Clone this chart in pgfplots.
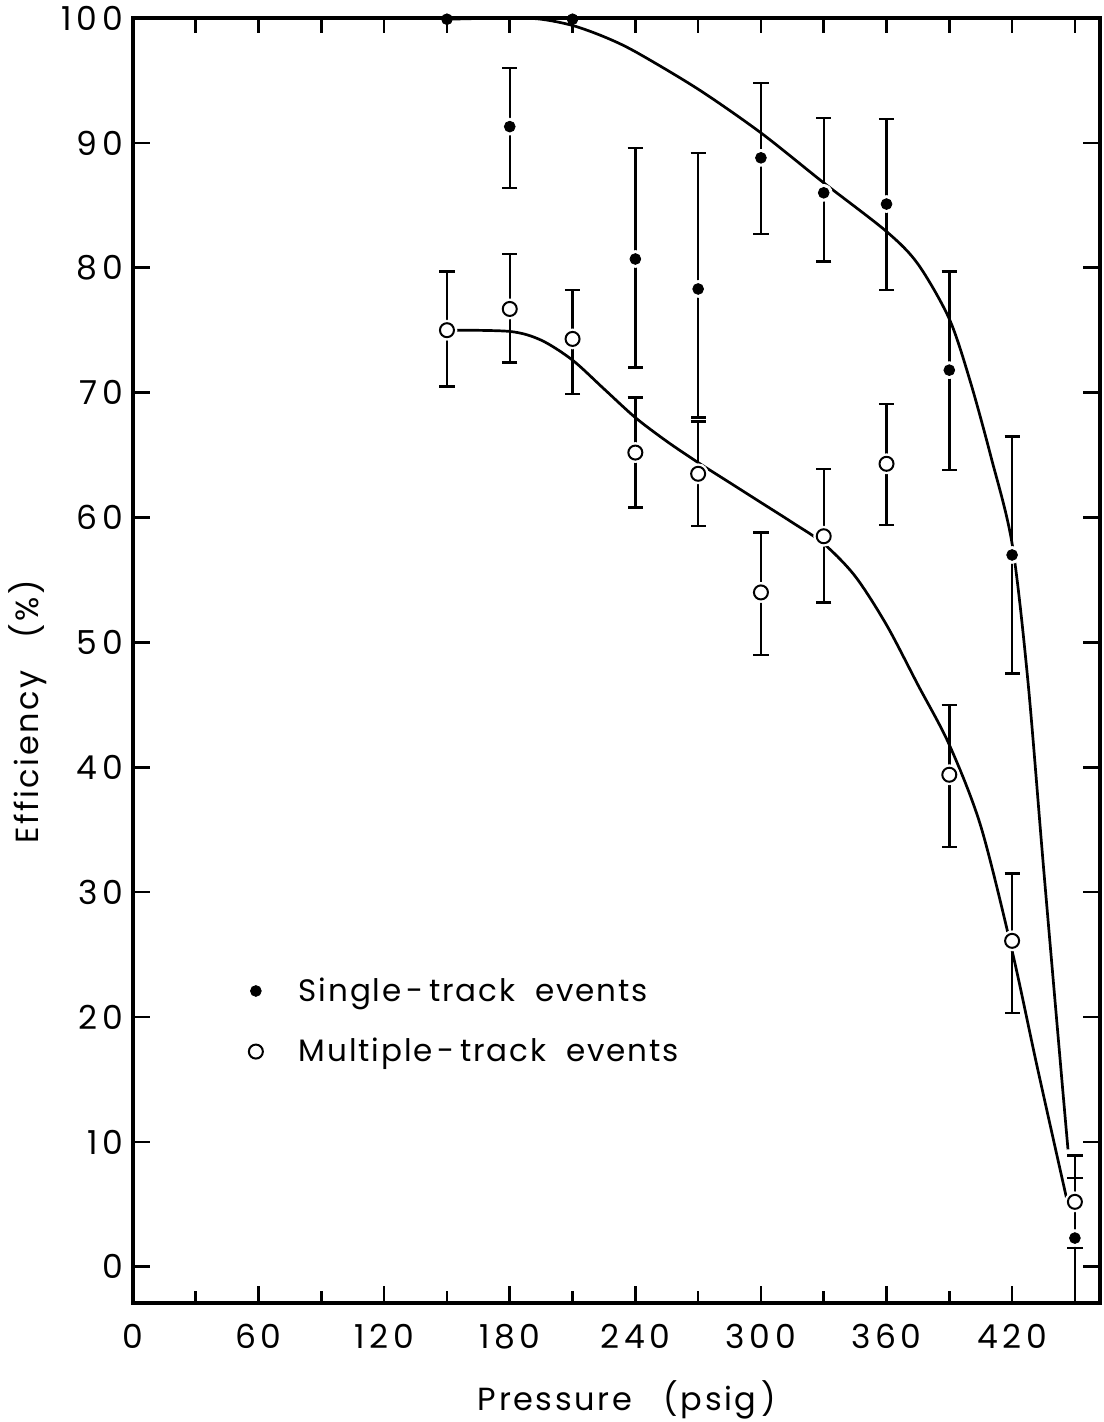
\documentclass[border=0pt]{standalone}
\usepackage{fontspec}
\setmainfont[LetterSpace=8]{Poppins}
\newfontfamily\tickfamily[LetterSpace=14]{Poppins}
\newfontfamily\legfamily[LetterSpace=6]{Poppins}
\usepackage{pgfplots}
\pgfplotsset{compat=1.18}
\usepackage{pgfplotstable}

% Single-track events: pressure, efficiency, error up, error down
\pgfplotstableread{
x y ep em
180 91.3 4.7 4.9
240 80.7 8.9 8.7
270 78.3 10.9 10.3
300 88.8 6.0 6.1
330 86.0 6.0 5.5
360 85.1 6.8 6.9
390 71.8 7.9 8.0
420 57.0 9.5 9.5
450 2.3 4.8 5.2
}\single
% points with no error bar
\pgfplotstableread{
x y
150 99.9
210 99.9
}\singlefull
% Multiple-track events
\pgfplotstableread{
x y ep em
150 75.0 4.7 4.5
180 76.7 4.4 4.3
210 74.3 3.9 4.4
240 65.2 4.4 4.4
270 63.5 4.2 4.2
300 54.0 4.8 5.0
330 58.5 5.4 5.3
360 64.3 4.8 4.9
390 39.4 5.6 5.8
420 26.1 5.4 5.8
450 5.2 3.7 3.7
}\multi

\newcommand\tickfont{\tickfamily\fontsize{16.5}{19}\selectfont}
\newcommand\lblfont{\fontsize{16}{19}\selectfont}
\newcommand\legfont{\legfamily\fontsize{15.5}{18}\selectfont}

\begin{document}
\begin{tikzpicture}
\pgfplotsset{
  common/.style={
    scale only axis,
    width=483.5pt, height=642.5pt,
    xmin=0, xmax=462, ymin=-2.9, ymax=100,
    tick align=inside,
    every tick/.style={black, line width=1.3pt},
    axis line style={line width=2.2pt},
  }
}
\begin{axis}[
  common,
  name=ax,
  xtick={0,60,...,420},
  minor xtick={30,90,...,450},
  xtick pos=left,
  ytick={0,10,...,100},
  yticklabel pos=left,
  major tick length=8.5pt,
  minor tick length=6pt,
  /pgf/number format/assume math mode=true,
  ticklabel style={font=\tickfont},
  xticklabel style={yshift=-7pt},
  yticklabel style={xshift=-1.5pt},
  xlabel={Pressure\quad(psig\,)},
  ylabel={Efficiency\quad(\%)},
  label style={font=\lblfont},
  xlabel style={at={(axis description cs:0.511,-0.0755)}, anchor=center},
  ylabel style={at={(axis description cs:-0.1086,0.46)}, anchor=center},
  legend style={draw=none, fill=none, font=\legfont,
    at={(axis cs:52.3,19.66)}, anchor=west,
    row sep=13pt, column sep=6pt,
    /tikz/every odd column/.append style={column sep=16pt}},
  legend cell align=left,
]
% fitted curves
\addplot[black, line width=1.35pt, smooth, forget plot] coordinates {
(150,99.9) (180,100) (195,99.9) (210,99.4) (225,98.5) (240,97.3)
(270,94.3) (300,90.8) (330,86.8) (360,82.9) (375,80.3) (390,75.9)
(400,70.9) (410,64.8) (420,57.9) (427.5,47) (435,32) (443.5,15.5) (446.7,9.4)
};
\addplot[black, line width=1.35pt, smooth, forget plot] coordinates {
(150,75) (180,74.9) (195,74.2) (210,72.6) (225,70.3) (240,68.0)
(255,66.1) (270,64.4) (285,62.8) (300,61.2) (315,59.6) (330,57.9)
(345,55.3) (360,51.4) (375,46.6) (390,41.8) (405,35.3) (420,25.3)
(432,16) (446,5.5)
};
% white gaps round the points
\addplot[only marks, mark=*, mark size=4.2pt, mark options={draw=white, fill=white}, forget plot]
  table[x=x, y=y] {\single};
\addplot[only marks, mark=*, mark size=5pt, mark options={draw=white, fill=white}, forget plot]
  table[x=x, y=y] {\multi};
% measured points
\addplot[only marks, mark=*, mark size=2.7pt, black,
  error bars/.cd, y dir=both, y explicit,
  error bar style={line width=1.2pt, black},
  error mark options={rotate=90, mark size=3.8pt, line width=1.2pt, black}]
  table[x=x, y=y, y error plus=ep, y error minus=em] {\single};
\addlegendentry{Single\,-\,track\ \ events}
\addplot[only marks, mark=*, mark size=3.5pt, black,
  mark options={fill=white, line width=1pt},
  error bars/.cd, y dir=both, y explicit,
  error bar style={line width=1.2pt, black},
  error mark options={rotate=90, mark size=3.8pt, line width=1.2pt, black}]
  table[x=x, y=y, y error plus=ep, y error minus=em] {\multi};
\addlegendentry{Multiple\,-\,track\ \ events}
\addplot[only marks, mark=*, mark size=2.7pt, black, forget plot]
  table[x=x, y=y] {\singlefull};
\end{axis}
% ticks along the top edge
\begin{axis}[
  common,
  axis x line*=top,
  axis y line=none,
  xtick={30,60,...,450},
  xticklabels={},
  major tick length=7.5pt,
]
\end{axis}
\pgfresetboundingbox
\path ([xshift=-66.5pt,yshift=-59.5pt]ax.south west) rectangle ([xshift=1.5pt,yshift=9pt]ax.north east);
\end{tikzpicture}
\end{document}
